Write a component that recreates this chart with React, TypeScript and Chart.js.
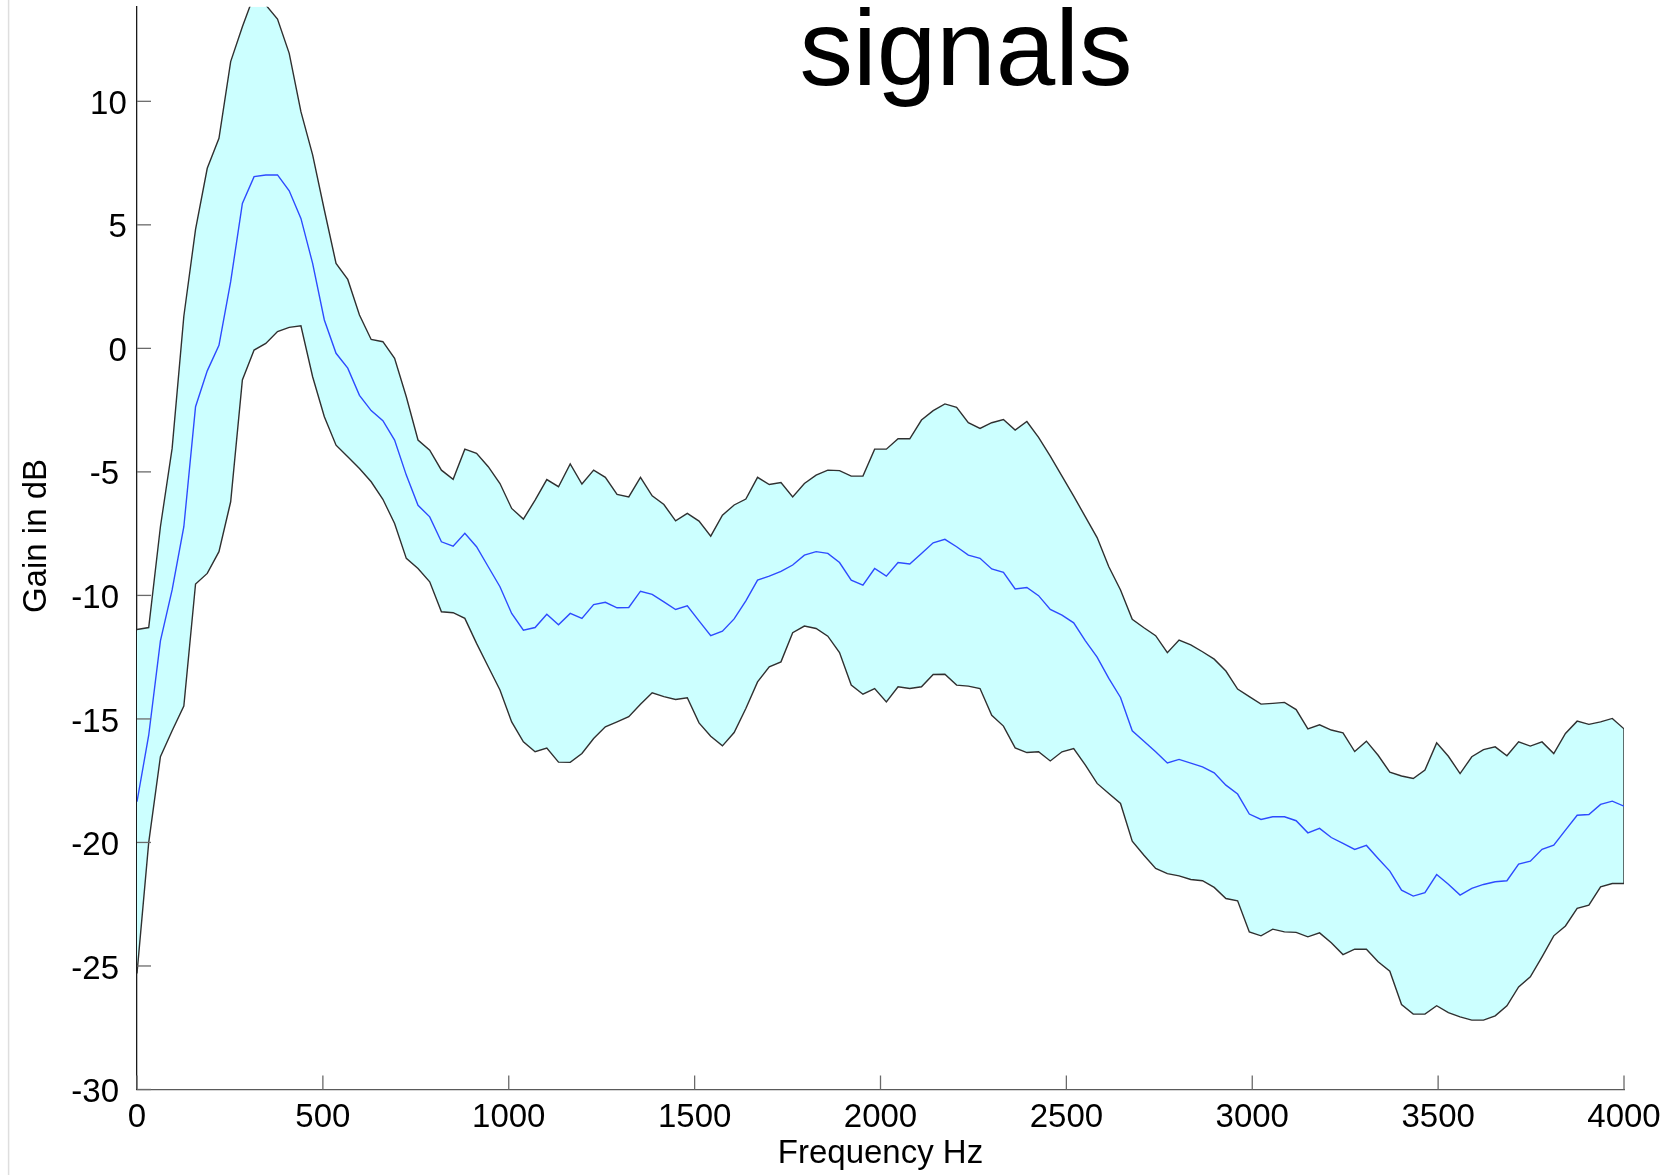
import React, { useEffect, useRef } from "react";
import { Chart, registerables } from "chart.js";

Chart.register(...registerables);

const TITLE = "signals";
const X_LABEL = "Frequency Hz";
const Y_LABEL = "Gain in dB";

// frequency bins: 128 bins from 0 to 4000 Hz
const F_MAX = 4000;
const N_BINS = 128;
const freqs: number[] = Array.from({ length: N_BINS }, (_, i) => (i * F_MAX) / (N_BINS - 1));

const xTicks = [0, 500, 1000, 1500, 2000, 2500, 3000, 3500, 4000];
const yTicks = [-30, -25, -20, -15, -10, -5, 0, 5, 10];

const upper = [
  -11.38, -11.3, -7.22, -4.05, 1.3, 4.82, 7.29, 8.5, 11.61, 13.02,
  14.3, 13.9, 13.33, 11.94, 9.58, 7.83, 5.6, 3.44, 2.79, 1.35,
  0.36, 0.27, -0.4, -1.96, -3.71, -4.12, -4.93, -5.3, -4.08, -4.25,
  -4.79, -5.47, -6.48, -6.91, -6.14, -5.31, -5.6, -4.68, -5.49, -4.93,
  -5.22, -5.91, -6.01, -5.22, -5.97, -6.32, -6.98, -6.68, -6.99, -7.6,
  -6.75, -6.34, -6.1, -5.22, -5.51, -5.43, -6.01, -5.47, -5.13, -4.93,
  -4.95, -5.17, -5.17, -4.08, -4.08, -3.66, -3.66, -2.9, -2.52, -2.25,
  -2.39, -3.01, -3.24, -3.01, -2.88, -3.31, -2.96, -3.6, -4.36, -5.17,
  -5.98, -6.82, -7.66, -8.84, -9.78, -10.97, -11.31, -11.63, -12.32, -11.81,
  -12.0, -12.28, -12.58, -13.06, -13.79, -14.1, -14.4, -14.37, -14.33, -14.62,
  -15.4, -15.24, -15.45, -15.56, -16.32, -15.9, -16.47, -17.15, -17.31, -17.41,
  -17.07, -15.97, -16.51, -17.21, -16.53, -16.24, -16.13, -16.49, -15.93, -16.1,
  -15.93, -16.4, -15.59, -15.09, -15.22, -15.12, -14.98, -15.4,
];

const mean = [
  -18.35, -15.66, -11.84, -9.78, -7.22, -2.36, -0.91, 0.12, 2.7, 5.87,
  6.95, 7.02, 7.02, 6.38, 5.26, 3.44, 1.15, -0.2, -0.8, -1.9,
  -2.52, -2.93, -3.71, -5.13, -6.35, -6.82, -7.83, -8.01, -7.49, -8.03,
  -8.84, -9.65, -10.73, -11.41, -11.3, -10.76, -11.19, -10.73, -10.93, -10.37,
  -10.28, -10.5, -10.49, -9.83, -9.96, -10.26, -10.57, -10.42, -11.03, -11.63,
  -11.45, -10.95, -10.22, -9.38, -9.22, -9.03, -8.77, -8.37, -8.23, -8.3,
  -8.67, -9.38, -9.58, -8.91, -9.22, -8.67, -8.73, -8.3, -7.87, -7.73,
  -8.03, -8.37, -8.5, -8.93, -9.07, -9.74, -9.68, -10.01, -10.57, -10.8,
  -11.11, -11.84, -12.5, -13.36, -14.13, -15.48, -15.9, -16.33, -16.78, -16.64,
  -16.79, -16.94, -17.18, -17.68, -18.04, -18.85, -19.07, -18.96, -18.96, -19.12,
  -19.61, -19.43, -19.8, -20.04, -20.28, -20.12, -20.65, -21.16, -21.93, -22.17,
  -22.03, -21.3, -21.69, -22.13, -21.86, -21.7, -21.59, -21.55, -20.88, -20.76,
  -20.28, -20.11, -19.5, -18.9, -18.87, -18.46, -18.33, -18.53,
];

const lower = [
  -25.3, -20.01, -16.53, -15.48, -14.48, -9.54, -9.11, -8.23, -6.21, -1.28,
  -0.07, 0.2, 0.68, 0.85, 0.91, -1.15, -2.77, -3.92, -4.39, -4.86,
  -5.4, -6.11, -7.09, -8.5, -8.91, -9.45, -10.66, -10.7, -10.93, -11.94,
  -12.89, -13.83, -15.12, -15.93, -16.33, -16.18, -16.75, -16.76, -16.4, -15.79,
  -15.32, -15.12, -14.91, -14.41, -13.94, -14.1, -14.21, -14.14, -15.16, -15.7,
  -16.09, -15.55, -14.58, -13.5, -12.89, -12.69, -11.51, -11.24, -11.34, -11.65,
  -12.31, -13.63, -14.0, -13.77, -14.31, -13.7, -13.77, -13.7, -13.2, -13.19,
  -13.63, -13.67, -13.77, -14.85, -15.29, -16.17, -16.36, -16.33, -16.7, -16.33,
  -16.2, -16.87, -17.61, -18.02, -18.42, -19.95, -20.52, -21.05, -21.26, -21.35,
  -21.5, -21.55, -21.82, -22.27, -22.36, -23.62, -23.78, -23.51, -23.62, -23.64,
  -23.82, -23.66, -24.06, -24.54, -24.32, -24.32, -24.83, -25.21, -26.56, -26.95,
  -26.95, -26.61, -26.89, -27.06, -27.19, -27.19, -27.02, -26.61, -25.85, -25.44,
  -24.63, -23.78, -23.38, -22.67, -22.54, -21.8, -21.66, -21.66,
];

const W = 1665;
const H = 1175;
const FONT = "'Liberation Sans', Arial, Helvetica, sans-serif";
const TICK_SIZE = 33;
const LABEL_SIZE = 33;

export default function App() {
  const ref = useRef<HTMLCanvasElement | null>(null);

  useEffect(() => {
    const canvas = ref.current;
    if (!canvas) return;

    const pts = (arr: number[]) => arr.map((y, i) => ({ x: freqs[i], y }));
    const last = N_BINS - 1;

    const decor = {
      id: "decor",
      afterDraw(chart: any) {
        const { ctx, chartArea, scales } = chart;
        const xs = scales.x;
        const ys = scales.y;
        ctx.save();
        // faint figure edge line
        ctx.strokeStyle = "#dedede";
        ctx.lineWidth = 1.5;
        ctx.beginPath();
        ctx.moveTo(8.6, 0);
        ctx.lineTo(8.6, H);
        ctx.stroke();
        // inward tick marks
        ctx.strokeStyle = "#6a6a6a";
        ctx.lineWidth = 1.3;
        for (const v of yTicks) {
          const y = ys.getPixelForValue(v);
          ctx.beginPath();
          ctx.moveTo(chartArea.left, y);
          ctx.lineTo(chartArea.left + 14, y);
          ctx.stroke();
        }
        for (const v of xTicks) {
          const x = xs.getPixelForValue(v);
          ctx.beginPath();
          ctx.moveTo(x, chartArea.bottom);
          ctx.lineTo(x, chartArea.bottom - 14);
          ctx.stroke();
        }
        // y tick labels (negative labels sit slightly further left, as in the source)
        ctx.font = `${TICK_SIZE}px ${FONT}`;
        ctx.fillStyle = "#000";
        ctx.textAlign = "right";
        ctx.textBaseline = "middle";
        for (const v of yTicks) {
          const y = ys.getPixelForValue(v) + 3.5;
          const xr = v < 0 ? chartArea.left - 18 : chartArea.left - 10.2;
          ctx.fillText(String(v), xr, y);
        }
        // y axis title
        ctx.save();
        ctx.translate(36.5, 536);
        ctx.rotate(-Math.PI / 2);
        ctx.font = `${LABEL_SIZE}px ${FONT}`;
        ctx.textAlign = "center";
        ctx.textBaseline = "middle";
        ctx.fillText(Y_LABEL, 0, 0);
        ctx.restore();
        // chart title
        ctx.font = `107px ${FONT}`;
        ctx.textAlign = "center";
        ctx.textBaseline = "alphabetic";
        ctx.fillText(TITLE, 966, 85);
        ctx.restore();
      },
    };

    const chart = new Chart(canvas, {
      type: "line",
      data: {
        datasets: [
          {
            label: "lower",
            data: pts(lower),
            borderColor: "#303030",
            borderWidth: 1.4,
            pointRadius: 0,
            tension: 0,
            fill: false,
          },
          {
            label: "upper",
            data: pts(upper),
            borderColor: "#303030",
            borderWidth: 1.4,
            pointRadius: 0,
            tension: 0,
            fill: "-1",
            backgroundColor: "rgb(204,255,255)",
          },
          {
            label: "mean",
            data: pts(mean),
            borderColor: "rgb(45,75,255)",
            borderWidth: 1.4,
            pointRadius: 0,
            tension: 0,
            fill: false,
          },
          {
            label: "edge",
            data: [
              { x: freqs[last], y: upper[last] },
              { x: freqs[last], y: lower[last] },
            ],
            borderColor: "#303030",
            borderWidth: 1.4,
            pointRadius: 0,
            fill: false,
          },
        ],
      },
      options: {
        animation: false,
        responsive: false,
        devicePixelRatio: 1,
        events: [],
        layout: { padding: { top: 6.7, right: 41, left: 0, bottom: 0 } },
        plugins: {
          legend: { display: false },
          tooltip: { enabled: false },
          title: { display: false },
          filler: { drawTime: "beforeDatasetsDraw" },
        },
        scales: {
          x: {
            type: "linear",
            min: 0,
            max: F_MAX,
            z: 1,
            afterBuildTicks: (s: any) => {
              s.ticks = xTicks.map((v) => ({ value: v }));
            },
            afterFit: (s: any) => {
              s.height = 85.5;
              s.paddingLeft = 0;
              s.paddingRight = 0;
            },
            grid: { display: false, drawTicks: false },
            border: { display: true, color: "#5a5a5a", width: 1.3 },
            ticks: {
              autoSkip: false,
              maxRotation: 0,
              padding: 9,
              color: "#000",
              font: { family: FONT, size: TICK_SIZE },
              callback: (v: any) => String(v),
            },
            title: {
              display: true,
              text: X_LABEL,
              color: "#000",
              font: { family: FONT, size: LABEL_SIZE },
              padding: { top: 0, bottom: 1 },
            },
          },
          y: {
            type: "linear",
            min: -30,
            max: 13.83,
            z: 1,
            afterBuildTicks: (s: any) => {
              s.ticks = yTicks.map((v) => ({ value: v }));
            },
            afterFit: (s: any) => {
              s.width = 137;
              s.paddingTop = 0;
              s.paddingBottom = 0;
            },
            grid: { display: false, drawTicks: false },
            border: { display: true, color: "#1a1a1a", width: 1.3 },
            ticks: { display: false },
          },
        },
      },
      plugins: [decor],
    } as any);

    return () => chart.destroy();
  }, []);

  return (
    <div style={{ position: "absolute", left: 0, top: 0, width: W, height: H, background: "#fff" }}>
      <canvas ref={ref} width={W} height={H} style={{ width: W, height: H, display: "block" }} />
    </div>
  );
}
